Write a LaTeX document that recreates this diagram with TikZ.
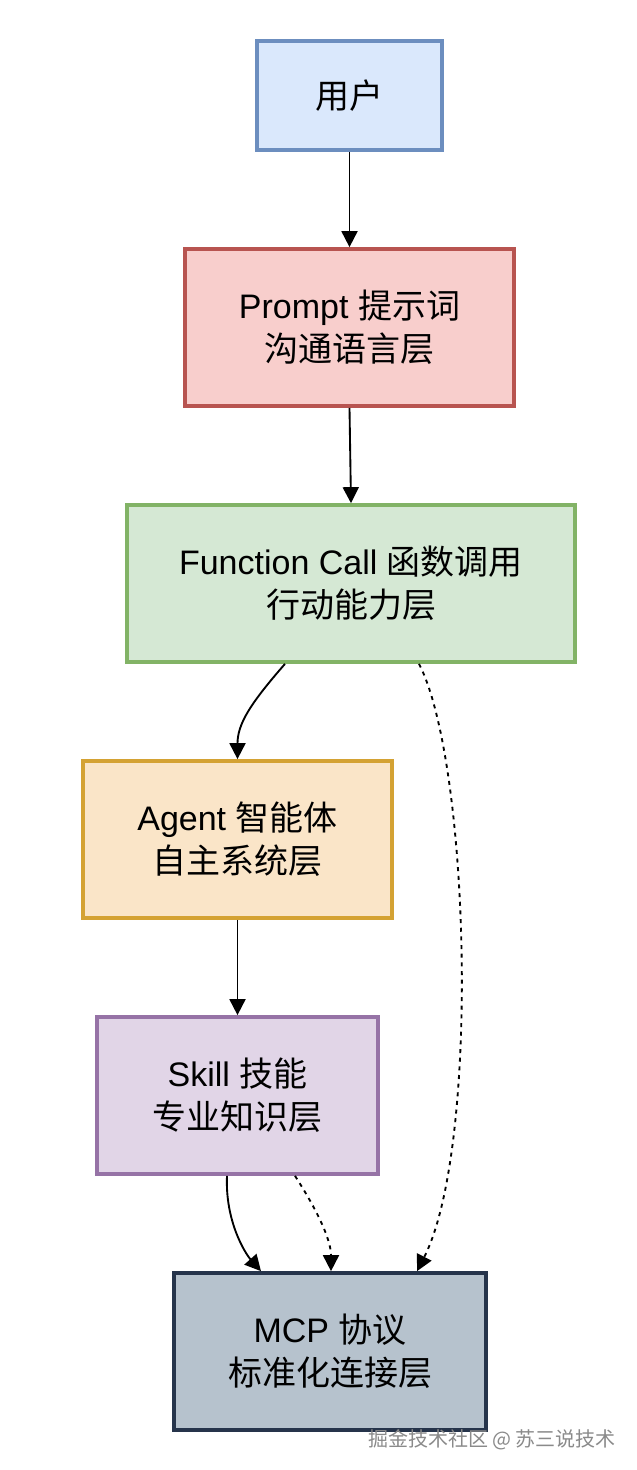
\documentclass[tikz,border=0pt]{standalone}
\usepackage{fontspec}
\setmainfont{Liberation Sans}
\newfontfamily\cjk{Noto Sans CJK SC}
\usetikzlibrary{arrows.meta,calc}
\definecolor{ufill}{HTML}{DAE8FC}\definecolor{uline}{HTML}{6C8EBF}
\definecolor{pfill}{HTML}{F8CECC}\definecolor{pline}{HTML}{B85450}
\definecolor{ffill}{HTML}{D5E8D4}\definecolor{fline}{HTML}{82B366}
\definecolor{afill}{HTML}{FAE5C8}\definecolor{aline}{HTML}{D4A233}
\definecolor{sfill}{HTML}{E1D5E7}\definecolor{sline}{HTML}{9673A6}
\definecolor{mfill}{HTML}{B6C2CD}\definecolor{mline}{HTML}{26344B}
\definecolor{wmgray}{HTML}{8A8A8A}
\begin{document}
\begin{tikzpicture}[x=0.75pt,y=-0.75pt,
  box/.style={draw, line width=2.8pt, rectangle, align=center, inner sep=0pt,
    font=\fontsize{25.5}{32}\selectfont},
  conn/.style={line width=1.4pt, -{Triangle[length=12pt,width=12pt]}},
  dotconn/.style={conn, dash pattern=on 3pt off 3.5pt}]
\useasboundingbox (0,0) rectangle (636,1470);
\fill[white] (0,0) rectangle (636,1470);
\node[box, fill=ufill, draw=uline, minimum width=185*0.75pt, minimum height=109*0.75pt] (u) at (349.5,95.5) {\cjk 用户};
\node[box, fill=pfill, draw=pline, minimum width=329*0.75pt, minimum height=157*0.75pt] (p) at (349.5,327.5) {Prompt {\cjk 提示词}\\{\cjk 沟通语言层}};
\node[box, fill=ffill, draw=fline, minimum width=448*0.75pt, minimum height=157*0.75pt] (f) at (351,583.5) {Function Call {\cjk 函数调用}\\{\cjk 行动能力层}};
\node[box, fill=afill, draw=aline, minimum width=309*0.75pt, minimum height=157*0.75pt] (a) at (237.5,839.5) {Agent {\cjk 智能体}\\{\cjk 自主系统层}};
\node[box, fill=sfill, draw=sline, minimum width=281*0.75pt, minimum height=157*0.75pt] (s) at (237.5,1095.5) {Skill {\cjk 技能}\\{\cjk 专业知识层}};
\node[box, fill=mfill, draw=mline, minimum width=312*0.75pt, minimum height=157*0.75pt] (m) at (330,1351.5) {MCP {\cjk 协议}\\{\cjk 标准化连接层}};
\node[text=wmgray, font=\cjk\fontsize{15}{18}\selectfont, inner sep=0pt] (wm) at (492,1440) {掘金技术社区 @ 苏三说技术};

\draw[conn] (u.south) -- (p.north);
\draw[conn] (p.south) -- (f.north);
\draw[conn] ($(f.south)+(-66,0)$) .. controls +(-35,40) and +(0,-35) .. (a.north);
\draw[dotconn] ($(f.south)+(68,0)$) .. controls +(51,98) and +(63,-123) .. ($(m.north)+(87,0)$);
\draw[conn] (a.south) -- (s.north);
\draw[conn] ($(s.south)+(-10.5,0)$) .. controls +(-2,45) and +(-16,-18) .. ($(m.north)+(-69,0)$);
\draw[dotconn] ($(s.south)+(57.5,0)$) .. controls +(20,31) and +(0,-33) .. ($(m.north)+(1,0)$);
\end{tikzpicture}
\end{document}
